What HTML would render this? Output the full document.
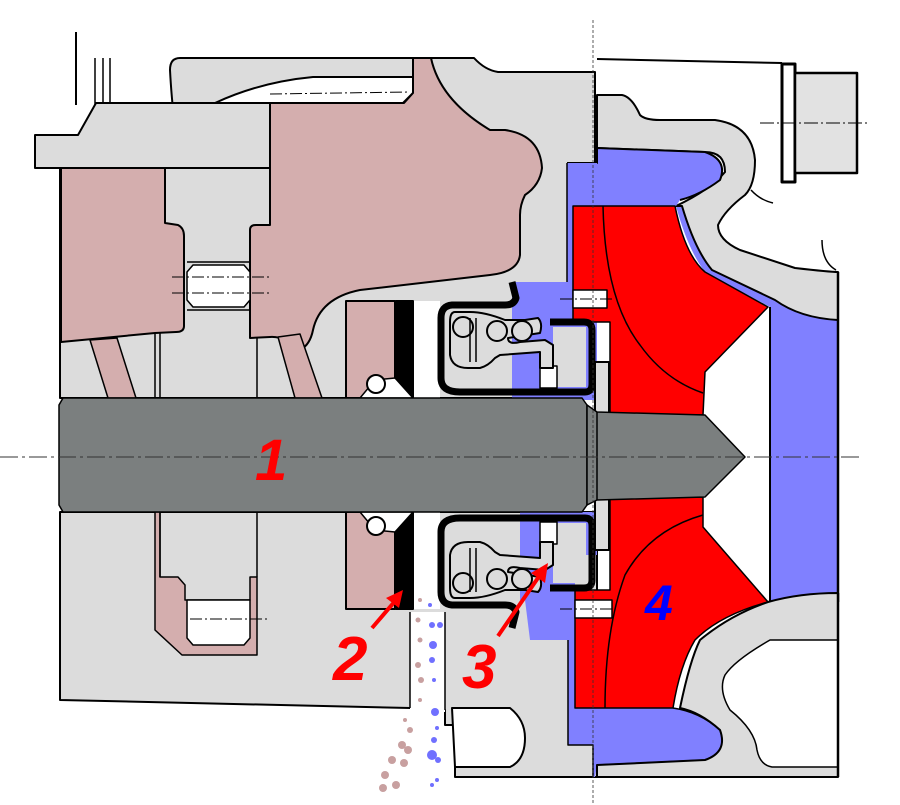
<!DOCTYPE html>
<html><head><meta charset="utf-8"><style>
html,body{margin:0;padding:0;background:#fff;}
svg{display:block;}
text{font-family:"Liberation Sans",sans-serif;font-weight:bold;font-style:italic;}
</style></head><body>
<svg width="900" height="805" viewBox="0 0 900 805" xmlns="http://www.w3.org/2000/svg">
<g stroke="#000" stroke-width="2" stroke-linejoin="round">
<line x1="76" y1="32" x2="76" y2="105" />
<line x1="95" y1="58" x2="95" y2="105" stroke-width="1.5"/>
<line x1="103" y1="58" x2="103" y2="105" stroke-width="1.5"/>
<line x1="110" y1="58" x2="110" y2="105" stroke-width="1.5"/>

<path d="M180,58 L474,58 Q485,70 498,72 L595,72 L595,398 L60,398 L60,168 L180,168 Q172,110 170,70 Q170,58 180,58 Z" fill="#dcdcdc"/>
<path d="M215,103 Q260,82 313,77 L413,77 L413,93 L403,103 Z" fill="#fff"/>
<line x1="270" y1="94" x2="410" y2="92" stroke-width="1" stroke-dasharray="12,3,2,3"/>
<path d="M35,135 L78,135 L96,103 L270,103 L270,168 L35,168 Z" fill="#dcdcdc"/>
<path d="M61,168 L165,168 L165,223 L178,225 Q184,228 184,236 L184,326 Q184,332 176,332 L155,333 L61,342 Z" fill="#d4aeae"/>
<path d="M270,103 L404,103 L413,93 L413,58 L431,58 Q440,100 490,130 L505,130 Q540,135 542,168 Q540,185 525,195 Q520,205 520,215 L520,255 Q518,272 490,275 L360,290 Q320,298 313,330 Q310,345 300,350 Q285,336 270,337 L250,338 L250,262 L250,230 Q250,225 256,225 L270,225 Z" fill="#d4aeae"/>
<path d="M90,340 L117,338 L136,398 L108,398 Z" fill="#d4aeae" stroke-width="1.5"/>
<path d="M278,337 L300,334 L322,398 L295,398 Z" fill="#d4aeae" stroke-width="1.5"/>
<line x1="155" y1="333" x2="155" y2="398" stroke-width="1.5"/>
<line x1="160" y1="333" x2="160" y2="398" stroke-width="1.5"/>
<line x1="257" y1="338" x2="257" y2="398" stroke-width="1.5"/>
<line x1="187" y1="262" x2="250" y2="262" stroke-width="1.5"/>
<line x1="187" y1="310" x2="250" y2="310" stroke-width="1.5"/>
<path d="M193,265 L244,265 L250,272 L250,300 L244,307 L193,307 L187,300 L187,272 Z" fill="#fff" stroke-width="1.5"/>
<line x1="172" y1="277" x2="270" y2="277" stroke-width="1" stroke-dasharray="12,3,2,3"/>
<line x1="172" y1="293" x2="270" y2="293" stroke-width="1" stroke-dasharray="12,3,2,3"/>

<!-- right band blue (under gray) -->
<path d="M676,206 L700,206 Q720,250 775,280 L838,290 L838,602 L770,602 L770,307 L705,272 Q688,250 676,206 Z" fill="#8080ff" stroke="none"/>
<line x1="770" y1="307" x2="770" y2="602"/>

<!-- right housing -->
<line x1="597" y1="59" x2="782" y2="63"/>
<rect x="782" y="64" width="13" height="118" fill="#fff" stroke-width="3"/>
<rect x="795" y="73" width="62" height="100" fill="#e2e2e2" stroke-width="2.5"/>
<line x1="760" y1="123" x2="870" y2="123" stroke-width="1" stroke-dasharray="14,3,2,3"/>
<path d="M597,95 L622,95 Q632,97 640,115 Q645,120 660,120 L715,120 Q752,125 755,160 Q755,185 745,195 Q725,210 718,225 Q718,240 740,250 L795,268 Q830,272 838,272 L838,320 Q800,318 775,300 L712,270 Q695,250 682,206 L676,206 Q710,190 725,172 Q725,152 705,152 L597,148 Z" fill="#dcdcdc"/>
<path d="M751,190 Q760,200 773,203" fill="none" stroke-width="1.5"/>
<path d="M822,240 Q822,262 836,270" fill="none" stroke-width="1.5"/>
<!-- blue upper -->
<path d="M567,163 L597,163 L597,148 L705,152 Q728,160 720,180 Q700,195 680,200 L676,206 L573,206 L573,163 Z" fill="#8080ff" stroke="none"/>
<path d="M567,163 L597,163 L597,148 L705,152 Q728,160 720,180 Q700,195 680,200" fill="none"/>
<path d="M512,282 L567,282 L567,163 L597,163 L597,400 L512,400 Z" fill="#8080ff" stroke="none"/>
<line x1="567" y1="163" x2="567" y2="282" stroke-width="1.5"/>
<line x1="838" y1="272" x2="838" y2="602" stroke-width="2.5"/>

<!-- lower housing -->
<path d="M60,512 L597,512 L597,777 L455,777 L455,725 L445,725 L445,710 L410,708 L60,700 Z" fill="#dcdcdc"/>
<path d="M452,708 L510,708 Q525,720 525,738 Q525,760 510,767 L455,767 Z" fill="#fff"/>
<rect x="410" y="612" width="35" height="100" fill="#fff" stroke="none"/>
<line x1="410" y1="612" x2="410" y2="708" stroke-width="1.5"/>
<line x1="445" y1="612" x2="445" y2="710" stroke-width="1.5"/>
<path d="M520,512 L597,512 L597,555 L575,555 L575,708 L673,708 Q700,712 720,730 Q728,752 705,760 L597,765 L595,777 L593,777 L593,745 L568,745 L568,640 L530,640 L525,600 L520,600 Z" fill="#8080ff" stroke="none"/>
<path d="M568,640 L568,745 L593,745 L593,777" fill="none" stroke-width="1.5"/>
<path d="M673,708 Q700,712 720,730 Q728,752 705,760 L597,765" fill="none" stroke-width="1.5"/>
<path d="M768,602 Q800,593 838,593 L838,777 L597,777 L597,765 L705,760 Q728,752 720,730 Q700,712 680,708 Q690,660 700,640 Q730,615 768,602 Z" fill="#dcdcdc"/>
<path d="M838,640 L770,640 Q735,660 725,675 Q718,690 730,710 Q755,730 757,750 Q760,765 772,767 L838,767" fill="#fff" stroke-width="1.5"/>
<line x1="838" y1="593" x2="838" y2="777" stroke-width="2.5"/>
<line x1="597" y1="777" x2="838" y2="777" stroke-width="1.5"/>

<!-- red impeller -->
<path d="M573,206 L675,206 Q685,255 705,272 L768,307 L705,372 L703,415 L610,415 L610,322 L573,322 Z" fill="#ff0000" stroke-width="1.5"/>
<path d="M610,497 L703,497 L703,527 L768,602 Q720,615 695,640 Q680,665 673,708 L575,708 L575,590 L610,590 Z" fill="#ff0000" stroke-width="1.5"/>
<path d="M603,206 Q605,300 640,345 Q665,380 703,393" fill="none" stroke-width="1.5"/>
<path d="M703,515 Q650,530 625,575 Q605,630 605,708" fill="none" stroke-width="1.5"/>
<rect x="573" y="290" width="34" height="18" fill="#fff" stroke-width="1.5"/>
<rect x="575" y="600" width="37" height="18" fill="#fff" stroke-width="1.5"/>
<line x1="560" y1="299" x2="615" y2="299" stroke-width="1" stroke-dasharray="12,3,2,3"/>
<line x1="560" y1="609" x2="615" y2="609" stroke-width="1" stroke-dasharray="12,3,2,3"/>
<rect x="595" y="362" width="14" height="188" fill="#dcdcdc" stroke-width="2"/>

<path d="M155,512 L160,512 L160,577 L178,577 L185,585 L185,600 L250,600 L250,577 L257,577 L257,655 L182,655 L155,630 Z" fill="#d4aeae" stroke-width="1.5"/>
<path d="M187,600 L250,600 L250,638 L244,645 L193,645 L187,638 Z" fill="#fff" stroke-width="1.5"/>
<line x1="160" y1="512" x2="160" y2="577" stroke-width="1.5"/>
<line x1="257" y1="512" x2="257" y2="577" stroke-width="1.5"/>
<line x1="190" y1="619" x2="270" y2="619" stroke-width="1" stroke-dasharray="12,3,2,3"/>

<g id="seal">
<rect x="346" y="301" width="49" height="97" fill="#d4aeae" stroke-width="2"/>
<rect x="413" y="301" width="27" height="97" fill="#fff" stroke="none"/>
<path d="M396,301 L413,301 L413,398 L396,378 Z" fill="#000"/>
<path d="M360,398 L375,380 L395,378 L413,398 Z" fill="#fff" stroke-width="1.5"/>
<circle cx="376" cy="384" r="9" fill="#fff" stroke-width="2"/>
<path d="M512,282 L516,298 Q514,305 505,305 L452,305 Q441,306 441,318 L441,378 Q441,392 460,392 L585,392 Q592,392 592,384 L592,330 Q592,322 584,322 L550,322" fill="none" stroke-width="7"/>
<rect x="553" y="327" width="33" height="60" fill="#dcdcdc" stroke="none"/>
<rect x="540" y="366" width="17" height="22" fill="#fff" stroke-width="1.5"/>
<path d="M455,312 Q450,312 450,322 L450,355 Q452,368 468,368 L480,368 Q488,366 495,358 L500,355 L540,352 L540,368 L553,368 L553,345 L545,340 L520,342 Q508,345 508,338 L540,333 Q543,323 538,318 L525,320 L505,320 Q485,312 470,312 Z" fill="#dcdcdc" stroke-width="2"/>
<circle cx="463" cy="327" r="10" fill="#dcdcdc" stroke-width="2"/>
<circle cx="497" cy="331" r="10" fill="#dcdcdc" stroke-width="2"/>
<circle cx="522" cy="331" r="10" fill="#dcdcdc" stroke-width="2"/>
<line x1="470" y1="318" x2="470" y2="362" stroke-width="1.5"/>
<line x1="476" y1="318" x2="476" y2="362" stroke-width="1.5"/>
</g>
<use href="#seal" transform="matrix(1,0,0,-1,0,910)"/>

<path d="M63,398 L582,398 L587,405 L587,505 L582,512 L63,512 L59,505 L59,405 Z" fill="#7b7f7f" stroke-width="1.5"/>
<path d="M587,405 L597,412 L705,415 L745,457 L705,497 L597,500 L587,505 Z" fill="#7b7f7f" stroke-width="1.5"/>
<line x1="597" y1="412" x2="597" y2="500" stroke-width="1.5"/>
</g>
<line x1="0" y1="457" x2="860" y2="457" stroke="#333" stroke-width="1" stroke-dasharray="18,4,3,4"/>
<line x1="593" y1="20" x2="593" y2="805" stroke="#333" stroke-width="0.8" stroke-dasharray="3,2"/>

<g fill="#c8a0a0">
<circle cx="420" cy="600" r="2"/><circle cx="418" cy="620" r="2.5"/><circle cx="420" cy="640" r="2.5"/><circle cx="418" cy="665" r="3"/><circle cx="421" cy="680" r="3"/><circle cx="420" cy="700" r="2"/>
<circle cx="405" cy="720" r="2"/><circle cx="410" cy="730" r="3"/><circle cx="402" cy="745" r="4"/><circle cx="408" cy="750" r="4"/><circle cx="392" cy="760" r="4"/><circle cx="404" cy="763" r="4"/><circle cx="385" cy="775" r="4"/><circle cx="396" cy="785" r="4"/><circle cx="383" cy="788" r="4"/>
</g>
<g fill="#7070ff">
<circle cx="430" cy="605" r="2"/><circle cx="432" cy="625" r="3"/><circle cx="440" cy="625" r="3"/><circle cx="433" cy="645" r="4"/><circle cx="432" cy="660" r="3"/><circle cx="434" cy="680" r="2"/><circle cx="435" cy="712" r="4"/><circle cx="437" cy="728" r="2"/><circle cx="434" cy="740" r="3"/><circle cx="432" cy="755" r="5"/><circle cx="438" cy="760" r="3"/><circle cx="432" cy="785" r="2"/><circle cx="437" cy="780" r="2"/>
</g>

<g stroke="#ff0000" stroke-width="4" fill="#ff0000">
<line x1="372" y1="628" x2="396" y2="600"/>
<polygon points="403,590 399,608 386,598" stroke="none"/>
<line x1="498" y1="636" x2="540" y2="575"/>
<polygon points="548,563 545,583 531,573" stroke="none"/>
</g>
<text x="255" y="480" font-size="58" fill="#ff0000">1</text>
<text x="333" y="680" font-size="62" fill="#ff0000">2</text>
<text x="462" y="688" font-size="62" fill="#ff0000">3</text>
<text x="645" y="620" font-size="50" fill="#0000ff">4</text>
</svg>
</body></html>
